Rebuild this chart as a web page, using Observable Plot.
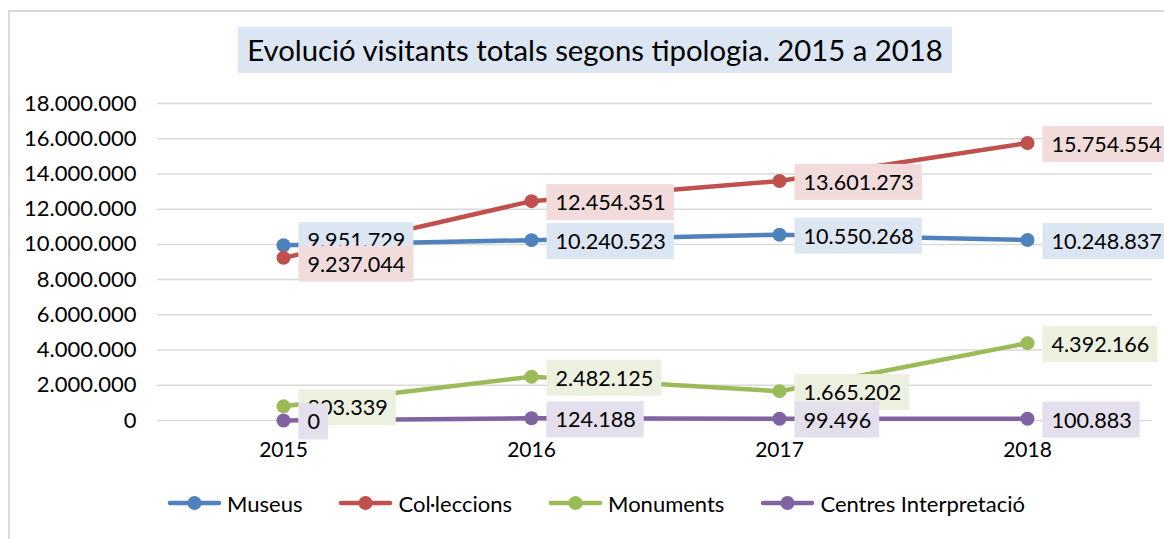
<!DOCTYPE html>
<html>
<head>
<meta charset="utf-8">
<script src="https://cdn.jsdelivr.net/npm/d3@7"></script>
<script src="https://cdn.jsdelivr.net/npm/@observablehq/plot@0.6"></script>
<style>
  html, body { margin: 0; padding: 0; background: #fff; overflow: hidden; }
  #wrap { position: relative; width: 1164px; height: 539px; font-family: Lato, "Open Sans", sans-serif; color: #000; }
  #frame { position: absolute; left: 8px; top: 10px; width: 1300px; height: 700px; border-left: 2px solid #d9d9d9; border-top: 2px solid #d9d9d9; box-sizing: border-box; }
  #title { position: absolute; left: 238px; top: 27px; width: 714px; height: 46px; background: #dce6f2; font-size: 29.3px; line-height: 46px; text-align: center; white-space: nowrap; }
  #chart { position: absolute; left: 0; top: 80px; }
  #legend { position: absolute; left: 167px; top: 490px; height: 26px; display: flex; align-items: center; font-size: 22px; white-space: nowrap; }
  .item { display: flex; align-items: center; margin-right: 36px; }
  .item svg { margin-right: 5px; }
  g[aria-label="y-axis tick label"] { font-size: 22px; }
  g[aria-label="x-axis tick label"] { font-size: 21px; }
</style>
</head>
<body>
<div id="wrap">
  <div id="frame"></div>
  <div id="title">Evolució visitants totals segons tipologia. 2015 a 2018</div>
  <div id="chart"></div>
  <div id="legend"></div>
</div>
<script>
const years = ["2015", "2016", "2017", "2018"];
const seriesNames = ["Museus", "Col·leccions", "Monuments", "Centres Interpretació"];
const museus = [9951729, 10240523, 10550268, 10248837];
const colleccions = [9237044, 12454351, 13601273, 15754554];
const monuments = [803339, 2482125, 1665202, 4392166];
const centres = [0, 124188, 99496, 100883];
const yTicks = [0, 2000000, 4000000, 6000000, 8000000, 10000000, 12000000, 14000000, 16000000, 18000000];
const colors = ["#4f81bd", "#c0504d", "#9bbb59", "#8064a2"];
const labelBg = ["#dce6f2", "#f2dcdb", "#ebf1de", "#e4dfec"];

const seriesValues = [museus, colleccions, monuments, centres];
const fmt = d => String(Math.round(d)).replace(/\B(?=(\d{3})+(?!\d))/g, ".");

const rows = seriesNames.flatMap((s, i) =>
  seriesValues[i].map((v, j) => ({series: s, year: years[j], value: v}))
);

// vertical nudges for the crowded 2015 labels
const dy2015 = {"Museus": -4, "Col·leccions": 7, "Monuments": 2, "Centres Interpretació": 2};

const labelMarks = [];
const labelColors = [];
seriesNames.forEach((s, i) => {
  labelMarks.push(Plot.text(rows.filter(d => d.series === s && d.year !== "2015"), {
    x: "year", y: "value", text: d => fmt(d.value), textAnchor: "start",
    dx: 24, dy: 2, fontSize: 21.6, fill: "#000"
  }));
  labelColors.push(labelBg[i]);
  labelMarks.push(Plot.text(rows.filter(d => d.series === s && d.year === "2015"), {
    x: "year", y: "value", text: d => fmt(d.value), textAnchor: "start",
    dx: 24, dy: dy2015[s], fontSize: 21.6, fill: "#000"
  }));
  labelColors.push(labelBg[i]);
});

const chart = Plot.plot({
  width: 1164,
  height: 390,
  marginTop: 23,
  marginBottom: 50,
  marginLeft: 157,
  marginRight: 12,
  style: {fontFamily: "Lato, 'Open Sans', sans-serif", fontSize: "21px", color: "#000", background: "transparent", overflow: "visible"},
  x: {type: "point", domain: years, padding: 0.5, label: null, tickSize: 0, tickPadding: 22},
  y: {domain: [0, 18000000], ticks: yTicks, tickFormat: fmt, label: null, tickSize: 0, tickPadding: 21},
  color: {domain: seriesNames, range: colors},
  marks: [
    Plot.gridY(yTicks, {stroke: "#d9d9d9", strokeOpacity: 1, strokeWidth: 1.5}),
    Plot.line(rows, {x: "year", y: "value", z: "series", stroke: "series", strokeWidth: 4.5, strokeLinecap: "round", strokeLinejoin: "round"}),
    Plot.dot(rows, {x: "year", y: "value", fill: "series", r: 7, stroke: "none"}),
    ...labelMarks
  ]
});

document.getElementById("chart").appendChild(chart);

// background boxes behind data labels
const groups = chart.querySelectorAll('g[aria-label="text"]');
groups.forEach((g, gi) => {
  const col = labelColors[gi];
  g.querySelectorAll("text").forEach(t => {
    const b = t.getBBox();
    const r = document.createElementNS("http://www.w3.org/2000/svg", "rect");
    r.setAttribute("x", b.x - 9);
    r.setAttribute("y", b.y - 5);
    r.setAttribute("width", b.width + 17);
    r.setAttribute("height", b.height + 10);
    r.setAttribute("fill", col);
    const tr = t.getAttribute("transform");
    if (tr) r.setAttribute("transform", tr);
    g.insertBefore(r, t);
  });
});

// legend
const legend = document.getElementById("legend");
seriesNames.forEach((s, i) => {
  const item = document.createElement("div");
  item.className = "item";
  item.innerHTML = `<svg width="55" height="16"><line x1="3" x2="52" y1="8" y2="8" stroke="${colors[i]}" stroke-width="4.5" stroke-linecap="round"/><circle cx="27.5" cy="8" r="7" fill="${colors[i]}"/></svg><span>${s}</span>`;
  legend.appendChild(item);
});
</script>
</body>
</html>
